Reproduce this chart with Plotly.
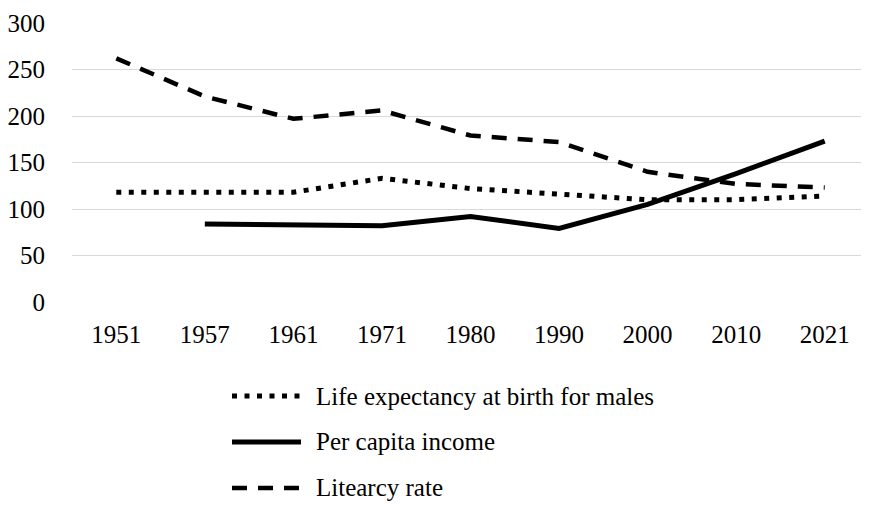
import plotly.graph_objects as go

years = ["1951", "1957", "1961", "1971", "1980", "1990", "2000", "2010", "2021"]
life_expectancy = [118, 118, 118, 133, 122, 116, 110, 110, 114]
per_capita_income = [None, 84, 83, 82, 92, 79, 105, 138, 173]
literacy_rate = [262, 221, 197, 206, 179, 172, 140, 127, 123]
y_ticks = [0, 50, 100, 150, 200, 250, 300]

names = ["Life expectancy at birth for males", "Per capita income", "Litearcy rate"]
styles = [("5px,7.5px", 5), ("solid", 5), ("15px,11px", 4.5)]
series = [life_expectancy, per_capita_income, literacy_rate]

# the page body has an 8px margin; size the figure so it fills the 869x508 window
OFF = 8
W, H = 869 - OFF, 508 - OFF
L, R, T = 72 - OFF, 0, 23 - OFF
B = H - (302 - OFF)
pw, ph = W - L - R, H - T - B

FONT = "'Liberation Serif', 'Times New Roman', 'DejaVu Serif', serif"
FS = 25

fig = go.Figure()
for name, vals, (dash, w) in zip(names, series, styles):
    fig.add_trace(go.Scatter(x=years, y=vals, mode="lines", name=name,
                             line=dict(color="black", width=w, dash=dash),
                             connectgaps=False, showlegend=False))

# custom legend (long line samples like the reference); positions in page pixels
def px_x(p):
    return (p - OFF - L) / pw

def px_y(p):
    return (H - B - (p - OFF)) / ph

legend_rows = [396, 442, 488]
for (dash, w), name, ry in zip(styles, names, legend_rows):
    fig.add_shape(type="line", xref="paper", yref="paper",
                  x0=px_x(232), x1=px_x(301), y0=px_y(ry), y1=px_y(ry),
                  line=dict(color="black", width=w, dash=dash))
    fig.add_annotation(xref="paper", yref="paper", x=px_x(314), y=px_y(ry),
                       text=name, showarrow=False, xanchor="left", yanchor="middle",
                       font=dict(family=FONT, size=FS, color="black"))

fig.update_layout(
    width=W, height=H,
    margin=dict(l=L, r=R, t=T, b=B, autoexpand=False),
    paper_bgcolor="white", plot_bgcolor="white",
    font=dict(family=FONT, size=FS, color="black"),
    showlegend=False,
)
fig.update_xaxes(type="category", range=[-0.5, len(years) - 0.5], showgrid=False,
                 showline=False, zeroline=False, automargin=False,
                 ticks="", ticklabelstandoff=15,
                 tickfont=dict(family=FONT, size=FS, color="black"))
fig.update_yaxes(range=[0, 300], tickvals=y_ticks, showgrid=True, gridcolor="#d9d9d9",
                 gridwidth=1, zeroline=False, showline=False, ticks="", automargin=False,
                 ticklabelstandoff=26,
                 tickfont=dict(family=FONT, size=FS, color="black"))

fig.write_html("out.html")
